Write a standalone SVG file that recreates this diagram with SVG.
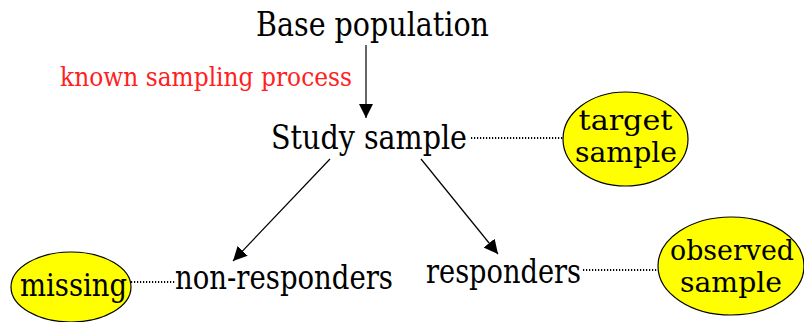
<svg xmlns="http://www.w3.org/2000/svg" width="804" height="322" viewBox="0 0 804 322">
  <style>
    text { font-family: "DejaVu Serif", "Liberation Serif", serif; fill: #000; }
    .big { font-size: 33px; }
    .oval { font-size: 27px; }
    .ell { fill: #ffff00; stroke: #000; stroke-width: 1.2; }
    .arrow { stroke: #000; stroke-width: 1.2; fill: none; marker-end: url(#head); }
    .dots { stroke: #000; stroke-width: 1.8; stroke-dasharray: 1.2 1.8; fill: none; }
  </style>
  <defs>
    <marker id="head" viewBox="0 0 10 10" refX="10" refY="5" markerWidth="14" markerHeight="14" markerUnits="userSpaceOnUse" orient="auto">
      <path d="M0,0 L10,5 L0,10 Z" fill="#000"/>
    </marker>
  </defs>

  <g id="connectors">
    <line class="arrow" x1="366" y1="45" x2="366" y2="118"/>
    <line class="arrow" x1="330" y1="159" x2="233" y2="261"/>
    <line class="arrow" x1="421" y1="159" x2="498" y2="254"/>
    <line class="dots" x1="471" y1="138" x2="563" y2="138"/>
    <line class="dots" x1="131" y1="282" x2="175" y2="282"/>
    <line class="dots" x1="583" y1="270" x2="658" y2="270"/>
  </g>

  <g id="base-population">
    <text class="big" x="256" y="36" textLength="233" lengthAdjust="spacingAndGlyphs">Base population</text>
  </g>

  <g id="sampling-label">
    <text x="60" y="86" font-size="26" style="fill:#ff2020" textLength="292" lengthAdjust="spacingAndGlyphs">known sampling process</text>
  </g>

  <g id="study-sample">
    <text class="big" x="271" y="149" textLength="196" lengthAdjust="spacingAndGlyphs">Study sample</text>
  </g>

  <g id="target-sample">
    <ellipse class="ell" cx="625.5" cy="139" rx="62.5" ry="47"/>
    <text class="oval" x="625.5" y="130" text-anchor="middle" textLength="94" lengthAdjust="spacingAndGlyphs">target</text>
    <text class="oval" x="626" y="162" text-anchor="middle" textLength="102" lengthAdjust="spacingAndGlyphs">sample</text>
  </g>

  <g id="non-responders">
    <text class="big" x="175" y="289" textLength="218" lengthAdjust="spacingAndGlyphs">non-responders</text>
  </g>

  <g id="missing">
    <ellipse class="ell" cx="71" cy="287" rx="60" ry="35"/>
    <text x="20" y="296" font-size="31" textLength="107" lengthAdjust="spacingAndGlyphs">missing</text>
  </g>

  <g id="responders">
    <text class="big" x="426" y="283" textLength="155" lengthAdjust="spacingAndGlyphs">responders</text>
  </g>

  <g id="observed-sample">
    <ellipse class="ell" cx="731" cy="266" rx="73" ry="49"/>
    <text class="oval" x="732" y="260" text-anchor="middle" textLength="124" lengthAdjust="spacingAndGlyphs">observed</text>
    <text class="oval" x="731" y="292" text-anchor="middle" textLength="102" lengthAdjust="spacingAndGlyphs">sample</text>
  </g>
</svg>
